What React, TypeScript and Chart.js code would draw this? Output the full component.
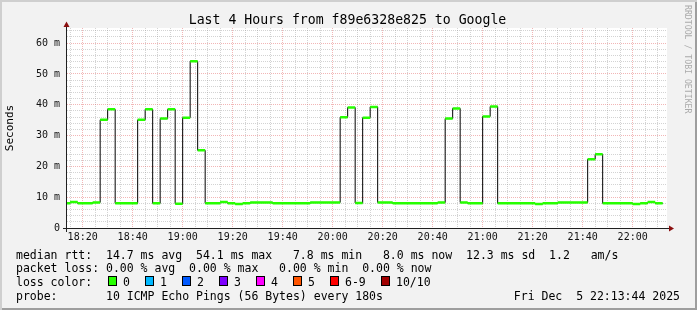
import React, { useEffect, useRef } from 'react';
import { Chart, registerables } from 'chart.js';

Chart.register(...registerables);

// ---------- data ----------
const chartTitle = 'Last 4 Hours from f89e6328e825 to Google';
const yAxisTitle = 'Seconds';
const watermark = 'RRDTOOL / TOBI OETIKER';

// time axis in minutes after 18:00
const baseHour = 18;
const viewStartMin = 13 + 44 / 60; // 18:13:44
const viewEndMin = 253 + 44 / 60; // 22:13:44
const firstSampleMin = 12; // 18:12
const sampleStepMin = 3; // every 180 s

// median RTT per 3-minute interval (ms), 18:12 .. 22:09
const medianRttMs = [
  8.0, 8.4, 8.0, 8.0, 8.3, 35.1, 38.5, 8.0, 8.0, 8.0,
  35.1, 38.5, 8.0, 35.5, 38.5, 7.9, 35.8, 54.1, 25.2, 8.0,
  8.0, 8.4, 8.0, 7.8, 8.0, 8.3, 8.3, 8.3, 8.0, 8.0,
  8.0, 8.0, 8.0, 8.3, 8.3, 8.3, 8.3, 35.9, 39.1, 8.1,
  35.8, 39.3, 8.3, 8.3, 8.0, 8.0, 8.0, 8.0, 8.0, 8.0,
  8.3, 35.5, 38.8, 8.3, 8.0, 8.0, 36.2, 39.4, 8.0, 8.0,
  8.0, 8.0, 8.0, 7.8, 8.0, 8.0, 8.3, 8.3, 8.3, 8.3,
  22.3, 23.9, 8.0, 8.0, 8.0, 8.0, 7.8, 8.0, 8.4, 8.0,
];

const xTickLabels = ['18:20', '18:40', '19:00', '19:20', '19:40', '20:00', '20:20', '20:40', '21:00', '21:20', '21:40', '22:00'];
const xMinorStepMin = 5;
const yTickValues = [0, 10, 20, 30, 40, 50, 60];
const yMinorStep = 2;
const yMaxMs = 64.9;
const yUnitSuffix = ' m';

const rttLine = 'median rtt:  14.7 ms avg  54.1 ms max   7.8 ms min   8.0 ms now  12.3 ms sd  1.2   am/s';
const lossLine = 'packet loss: 0.00 % avg  0.00 % max   0.00 % min  0.00 % now';
const lossColorLabel = 'loss color:';
const lossColorNames = ['0', '1', '2', '3', '4', '5', '6-9', '10/10'];
const lossColorValues = ['#26ff00', '#00b8ff', '#0059ff', '#7e00ff', '#ff00ff', '#ff5500', '#ff0000', '#a10000'];
const probeLine = 'probe:       10 ICMP Echo Pings (56 Bytes) every 180s';
const timestampText = 'Fri Dec  5 22:13:44 2025';

// ---------- layout / style ----------
const W = 697;
const H = 310;
const PLOT_LEFT = 67;
const PLOT_RIGHT = 667;
const PLOT_TOP = 28;
const PLOT_BOTTOM = 228;
const MONO = '"DejaVu Sans Mono", monospace';
const swatchCols = [108, 145, 182, 219, 256, 293, 330, 381];
const rowTops = [247.5, 261.3, 274.7, 289];

const labelToMin = (s: string) => {
  const [h, m] = s.split(':').map(Number);
  return (h - baseHour) * 60 + m;
};

export default function App() {
  const ref = useRef<HTMLCanvasElement | null>(null);

  useEffect(() => {
    const canvas = ref.current;
    if (!canvas) return;

    const times = medianRttMs.map((_, i) => firstSampleMin + i * sampleStepMin);
    const lastEnd = times[times.length - 1] + sampleStepMin;

    const stepData = medianRttMs.map((v, i) => ({ x: times[i], y: v }));
    stepData.push({ x: lastEnd, y: medianRttMs[medianRttMs.length - 1] });

    const barData: { x: number; y: number | null }[] = [];
    medianRttMs.forEach((v, i) => {
      barData.push({ x: times[i], y: v });
      barData.push({ x: times[i] + sampleStepMin, y: v });
      barData.push({ x: times[i] + sampleStepMin, y: null });
    });

    const labeledX = xTickLabels.map(labelToMin);
    const xMinor: number[] = [];
    for (let t = Math.ceil(viewStartMin / xMinorStepMin) * xMinorStepMin; t <= viewEndMin; t += xMinorStepMin) xMinor.push(t);
    const yMinor: number[] = [];
    for (let v = 0; v <= yMaxMs; v += yMinorStep) yMinor.push(v);

    const minorColor = 'rgba(140,140,140,0.38)';
    const majorColor = 'rgba(225,80,80,0.42)';

    const bgPlugin = {
      id: 'plotBg',
      beforeDraw(chart: any) {
        const { ctx, chartArea: a } = chart;
        ctx.save();
        ctx.fillStyle = '#ffffff';
        ctx.fillRect(a.left, a.top, a.right - a.left, a.bottom - a.top);
        ctx.restore();
      },
    };

    const axisPlugin = {
      id: 'rrdAxes',
      afterDatasetsDraw(chart: any) {
        const { ctx, chartArea: a } = chart;
        const ax = a.left - 0.5;
        const ay = a.bottom + 0.5;
        ctx.save();
        ctx.strokeStyle = '#202020';
        ctx.lineWidth = 1;
        ctx.beginPath();
        ctx.moveTo(a.left - 4, ay);
        ctx.lineTo(a.right + 2, ay);
        ctx.moveTo(ax, a.bottom + 4);
        ctx.lineTo(ax, a.top - 1);
        ctx.stroke();
        ctx.fillStyle = '#8b1010';
        ctx.beginPath();
        ctx.moveTo(a.right + 2, ay - 3);
        ctx.lineTo(a.right + 7, ay);
        ctx.lineTo(a.right + 2, ay + 3);
        ctx.closePath();
        ctx.fill();
        ctx.beginPath();
        ctx.moveTo(ax - 3, a.top - 1);
        ctx.lineTo(ax, a.top - 6.5);
        ctx.lineTo(ax + 3, a.top - 1);
        ctx.closePath();
        ctx.fill();
        ctx.restore();
      },
    };

    const chart = new Chart(canvas, {
      type: 'line',
      data: {
        datasets: [
          {
            label: 'median',
            data: barData as any,
            borderColor: lossColorValues[0],
            borderWidth: 2.5,
            borderCapStyle: 'butt',
            pointRadius: 0,
            spanGaps: false,
            fill: false,
            clip: 0,
            order: 0,
          },
          {
            label: 'median-step',
            data: stepData as any,
            borderColor: '#000000',
            borderWidth: 1,
            stepped: true,
            pointRadius: 0,
            fill: false,
            clip: 0,
            order: 1,
          },
        ],
      },
      options: {
        animation: false,
        responsive: false,
        devicePixelRatio: 1,
        parsing: false as any,
        layout: { padding: { left: 0, top: PLOT_TOP, right: W - PLOT_RIGHT, bottom: 0 } },
        plugins: { legend: { display: false }, tooltip: { enabled: false }, title: { display: false } },
        scales: {
          x: {
            type: 'linear',
            min: viewStartMin,
            max: viewEndMin,
            afterFit: (s: any) => { s.height = H - PLOT_BOTTOM; },
            afterBuildTicks: (s: any) => { s.ticks = xMinor.map((v) => ({ value: v })); },
            ticks: {
              autoSkip: false,
              maxRotation: 0,
              padding: 3,
              color: '#111',
              font: { family: MONO, size: 10 },
              callback: (v: any) => {
                const i = labeledX.indexOf(Number(v));
                return i >= 0 ? xTickLabels[i] : '';
              },
            },
            grid: {
              drawTicks: false,
              lineWidth: 1,
              color: (c: any) => (c.tick && labeledX.includes(c.tick.value) ? majorColor : minorColor),
            },
            border: { display: false, dash: [1, 1] },
          },
          y: {
            type: 'linear',
            min: 0,
            max: yMaxMs,
            afterFit: (s: any) => { s.width = PLOT_LEFT; },
            afterBuildTicks: (s: any) => { s.ticks = yMinor.map((v) => ({ value: v })); },
            ticks: {
              autoSkip: false,
              padding: 7,
              color: '#111',
              font: { family: MONO, size: 10 },
              callback: (v: any) => {
                const n = Number(v);
                if (!yTickValues.includes(n)) return '';
                return n === 0 ? '0' : `${n}${yUnitSuffix}`;
              },
            },
            title: {
              display: true,
              text: yAxisTitle,
              color: '#000',
              font: { family: MONO, size: 11 },
              padding: { top: 4, bottom: 4 },
            },
            grid: {
              drawTicks: false,
              lineWidth: 1,
              color: (c: any) => (c.tick && yTickValues.includes(c.tick.value) ? majorColor : minorColor),
            },
            border: { display: false, dash: [1, 1] },
          },
        },
      } as any,
      plugins: [bgPlugin, axisPlugin],
    });

    return () => chart.destroy();
  }, []);

  const txt = (left: number, top: number, text: string, key?: string) => (
    <div
      key={key}
      style={{
        position: 'absolute',
        left,
        top,
        fontSize: '11.5px',
        lineHeight: '14px',
        whiteSpace: 'pre',
        color: '#000',
      }}
    >
      {text}
    </div>
  );

  return (
    <div
      style={{
        position: 'absolute',
        left: 0,
        top: 0,
        width: W,
        height: H,
        background: '#f2f2f2',
        overflow: 'hidden',
        fontFamily: MONO,
      }}
    >
      <canvas ref={ref} width={W} height={H} style={{ position: 'absolute', left: 0, top: 0, width: W, height: H }} />
      <div
        style={{
          position: 'absolute',
          left: 0,
          width: 695,
          top: 11.5,
          textAlign: 'center',
          fontSize: '13.2px',
          lineHeight: '16px',
          whiteSpace: 'pre',
          color: '#000',
        }}
      >
        {chartTitle}
      </div>
      <div
        style={{
          position: 'absolute',
          left: 683,
          top: 5,
          writingMode: 'vertical-rl',
          fontSize: '8.2px',
          lineHeight: '9px',
          whiteSpace: 'pre',
          color: '#ababab',
        }}
      >
        {watermark}
      </div>
      {txt(16, rowTops[0], rttLine, 'rtt')}
      {txt(16, rowTops[1], lossLine, 'loss')}
      {txt(16, rowTops[2], lossColorLabel, 'lc')}
      {lossColorNames.map((name, i) => (
        <React.Fragment key={'s' + i}>
          <div
            style={{
              position: 'absolute',
              left: swatchCols[i],
              top: 276,
              width: 9,
              height: 10,
              boxSizing: 'border-box',
              border: '1px solid #000',
              background: lossColorValues[i],
            }}
          />
          {txt(swatchCols[i] + 15, rowTops[2], name)}
        </React.Fragment>
      ))}
      {txt(16, rowTops[3], probeLine, 'probe')}
      <div
        style={{
          position: 'absolute',
          right: 17,
          top: rowTops[3],
          fontSize: '11.5px',
          lineHeight: '14px',
          whiteSpace: 'pre',
          color: '#000',
        }}
      >
        {timestampText}
      </div>
      <div
        style={{
          position: 'absolute',
          left: 0,
          top: 0,
          width: W,
          height: H,
          boxSizing: 'border-box',
          boxShadow: 'inset 2px 2px 0 #cfcfcf, inset -2px -2px 0 #9e9e9e',
          pointerEvents: 'none',
        }}
      />
    </div>
  );
}
